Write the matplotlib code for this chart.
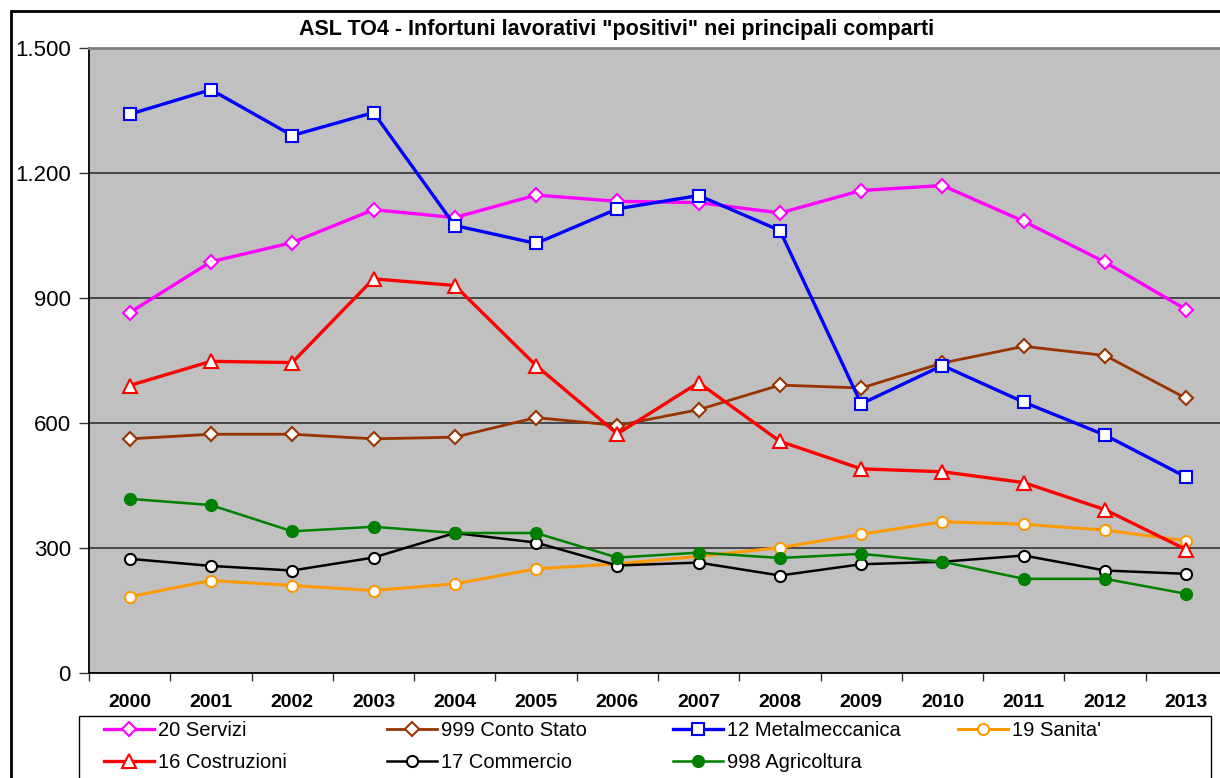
import numpy as np
import matplotlib
matplotlib.use("Agg")
import matplotlib.pyplot as plt
from matplotlib.patches import Rectangle
from matplotlib.ticker import FuncFormatter, MultipleLocator

plt.rcParams['font.family'] = ['Liberation Sans', 'DejaVu Sans']

years = [str(y) for y in range(2000, 2014)]

servizi = [865, 987, 1033, 1112, 1093, 1147, 1132, 1129, 1104, 1158, 1170, 1084, 986, 872]
conto_stato = [562, 573, 573, 562, 566, 613, 594, 632, 691, 684, 744, 784, 762, 659]
metalmeccanica = [1341, 1400, 1290, 1345, 1074, 1031, 1114, 1146, 1062, 646, 738, 650, 571, 470]
sanita = [183, 222, 210, 198, 214, 250, 262, 280, 301, 333, 363, 357, 343, 317]
costruzioni = [690, 748, 745, 946, 930, 738, 574, 697, 556, 490, 483, 457, 392, 296]
commercio = [274, 257, 246, 277, 336, 313, 258, 265, 234, 261, 267, 282, 246, 238]
agricoltura = [418, 403, 340, 351, 336, 336, 277, 289, 276, 286, 267, 226, 226, 190]

# label, data, colour, marker, size, linewidth, filled
series = [
    ("20 Servizi", servizi, "#FF00FF", "D", 7.5, 2.4, False),
    ("999 Conto Stato", conto_stato, "#993300", "D", 7.5, 2.0, False),
    ("12 Metalmeccanica", metalmeccanica, "#0000FF", "s", 8.5, 2.4, False),
    ("19 Sanita'", sanita, "#FF9900", "o", 8.0, 2.2, False),
    ("16 Costruzioni", costruzioni, "#FF0000", "^", 9.5, 2.4, False),
    ("17 Commercio", commercio, "#000000", "o", 8.0, 1.8, False),
    ("998 Agricoltura", agricoltura, "#008000", "o", 8.0, 1.8, True),
]

W, H = 1220, 778
fig = plt.figure(figsize=(W / 100, H / 100), dpi=100)
ax = fig.add_axes([89 / W, 105 / H, 1138 / W, 625 / H])
ax.set_facecolor("#C0C0C0")

x = np.arange(len(years))
lines = []
for label, vals, col, mk, ms, lw, filled in series:
    lines.append(ax.plot(x, vals, color=col, lw=lw, marker=mk, ms=ms,
                         mfc=col if filled else "white", mec=col, mew=1.5,
                         label=label, zorder=3)[0])

ax.set_xlim(-0.5, len(years) - 0.5)
ax.set_ylim(0, 1500)
ax.yaxis.set_major_locator(MultipleLocator(300))
ax.yaxis.set_major_formatter(FuncFormatter(lambda v, p: f"{int(v):,}".replace(",", ".")))
ax.grid(axis="y", color="#333333", lw=1.2, zorder=1)
ax.set_axisbelow(True)

ax.set_xticks(x)
ax.set_xticklabels(years, fontweight="bold", fontsize=14)
ax.set_xticks(np.arange(-0.5, len(years)), minor=True)
ax.tick_params(axis="x", which="major", length=0, pad=15)
ax.tick_params(axis="x", which="minor", length=6, width=1, color="#333333")
ax.tick_params(axis="y", length=7, width=1, pad=6, labelsize=16, color="#333333")

for s in ["left", "bottom"]:
    ax.spines[s].set_color("#000000")
    ax.spines[s].set_linewidth(1.3)
ax.spines["top"].set_color("#808080")
ax.spines["top"].set_linewidth(2)
ax.spines["right"].set_color("#808080")

fig.text(617 / W, 1 - 29 / H, 'ASL TO4 - Infortuni lavorativi "positivi" nei principali comparti',
         ha="center", va="center", fontsize=15.5, fontweight="bold")

# chart border
fig.patches.append(Rectangle((10.5 / W, -0.05), 1.1, 1 - 10.5 / H + 0.05,
                             transform=fig.transFigure, fill=False,
                             ec="black", lw=2))

# legend: four fixed-width columns, two rows, inside one frame
fig.patches.append(Rectangle((79 / W, -0.05), 1132 / W, 1 - 716 / H + 0.05,
                             transform=fig.transFigure, fill=False,
                             ec="black", lw=1))
col_x = [104, 387, 673, 958]
for i, cx in enumerate(col_x):
    hs = [lines[i]] + ([lines[i + 4]] if i + 4 < len(lines) else [])
    leg = fig.legend(hs, [h.get_label() for h in hs],
                     loc="upper left", bbox_to_anchor=(cx / W, 1 - 721 / H),
                     fontsize=14.5, frameon=False, handlelength=2.5, handletextpad=0.2,
                     labelspacing=0.65, borderpad=0, borderaxespad=0)

fig.savefig("out.png", dpi=100)
